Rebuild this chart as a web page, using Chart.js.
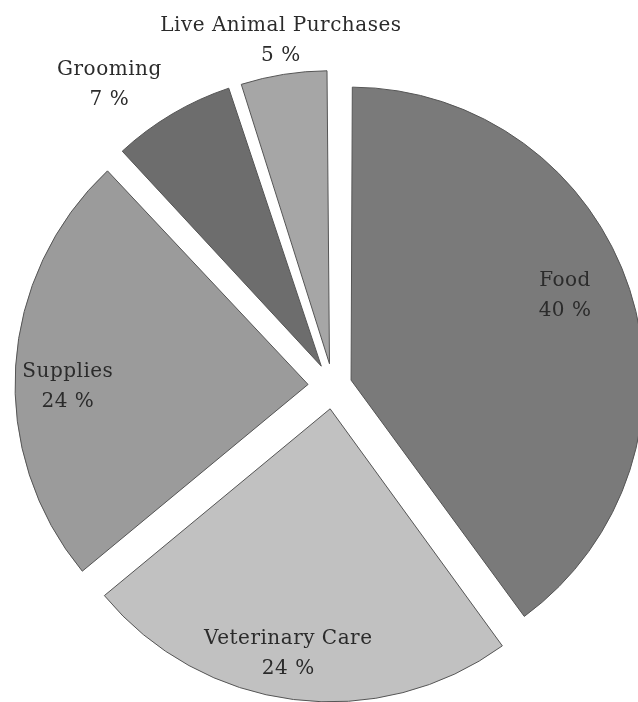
<!DOCTYPE html>
<html>
<head>
<meta charset="utf-8">
<script src="https://cdn.jsdelivr.net/npm/chart.js@4.4.1/dist/chart.umd.min.js"></script>
<style>
  html, body { margin: 0; padding: 0; background: #fff; }
  #wrap { width: 638px; height: 702px; }
</style>
</head>
<body>
<div id="wrap"><canvas id="petPie"></canvas></div>
<script>
// pet spending shares (percent)
const categories = ['Food', 'Veterinary Care', 'Supplies', 'Grooming', 'Live Animal Purchases'];
const shares = [40, 24, 24, 7, 5];

const sliceColors = ['#7a7a7a', '#c1c1c1', '#9b9b9b', '#6d6d6d', '#a6a6a6'];
// pull-out of each slice, in chart.js offset units (4 units = 1px)
const explode = [76, 92, 100, 92, 90];
// label placement: [angle nudge in degrees, distance as share of radius]
const labelSpots = [[-3.3, 0.85], [2.3, 0.925], [-3.8, 0.905], [-6, 1.28], [0.4, 1.19]];

const PIE_R = 293;

// chart.js grows thin exploded slices a bit, keep them all the same size
const keepRadius = {
  id: 'keepRadius',
  beforeDatasetDraw(chart) {
    const arcs = chart.getDatasetMeta(0).data;
    arcs.forEach((arc, i) => {
      const circ = arc.endAngle - arc.startAngle;
      const fix = 1 - Math.sin(Math.min(Math.PI, circ));
      arc.outerRadius = PIE_R - (explode[i] / 4) * fix;
    });
  }
};

const sliceLabels = {
  id: 'sliceLabels',
  afterDatasetsDraw(chart) {
    const ctx = chart.ctx;
    const arcs = chart.getDatasetMeta(0).data;
    ctx.save();
    ctx.font = '20px "DejaVu Serif"';
    ctx.letterSpacing = '0.5px';
    ctx.fillStyle = '#2b2b2b';
    ctx.textAlign = 'center';
    ctx.textBaseline = 'middle';
    arcs.forEach((arc, i) => {
      const mid = (arc.startAngle + arc.endAngle) / 2 + labelSpots[i][0] * Math.PI / 180;
      const r = PIE_R * labelSpots[i][1];
      const x = arc.x + Math.cos(mid) * r;
      const y = arc.y + Math.sin(mid) * r;
      ctx.fillText(categories[i], x, y - 15);
      ctx.fillText(shares[i] + ' %', x, y + 15);
    });
    ctx.restore();
  }
};

const ctx = document.getElementById('petPie').getContext('2d');
const myChart = new Chart(ctx, {
  type: 'pie',
  data: {
    labels: categories,
    datasets: [{
      data: shares,
      backgroundColor: sliceColors,
      borderColor: '#555555',
      borderWidth: 1,
      offset: explode,
      clip: false
    }]
  },
  options: {
    responsive: true,
    maintainAspectRatio: false,
    animation: false,
    radius: PIE_R,
    layout: { padding: { left: 28, top: 70, right: 0, bottom: 0 } },
    plugins: {
      legend: { display: false },
      tooltip: { enabled: false }
    }
  },
  plugins: [keepRadius, sliceLabels]
});
</script>
</body>
</html>
